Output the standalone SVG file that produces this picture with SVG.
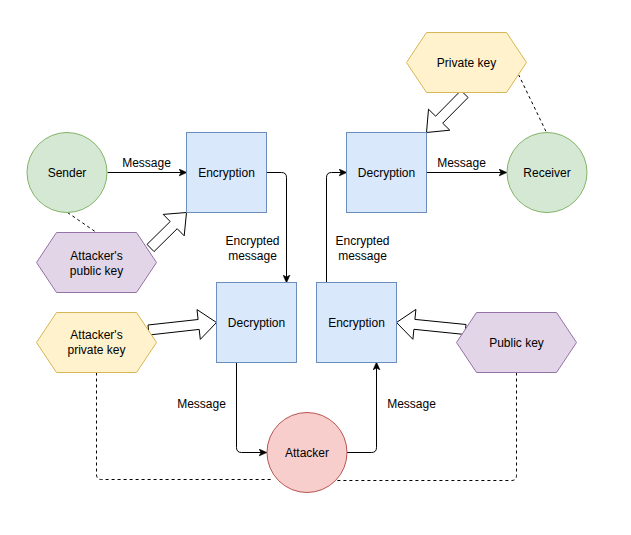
<svg xmlns="http://www.w3.org/2000/svg" width="631" height="535" viewBox="0 0 631 535">
<defs>
<style>
text{font-family:"Liberation Sans",Arial,Helvetica,sans-serif;font-size:12px;fill:#000;text-anchor:middle;dominant-baseline:central}
.box{fill:#dae8fc;stroke:#6c8ebf;stroke-width:1}
.green{fill:#d5e8d4;stroke:#82b366;stroke-width:1}
.red{fill:#f8cecc;stroke:#b85450;stroke-width:1}
.purple{fill:#e1d5e7;stroke:#9673a6;stroke-width:1}
.yellow{fill:#fff2cc;stroke:#d6b656;stroke-width:1}
.edge{fill:none;stroke:#000;stroke-width:1;marker-end:url(#arr)}
.dash{fill:none;stroke:#000;stroke-width:1;stroke-dasharray:3 3}
.flex{fill:#fff;stroke:#000;stroke-width:1;stroke-linejoin:miter}
</style>
<marker id="arr" viewBox="0 0 8 8" refX="7.5" refY="4" markerWidth="8" markerHeight="8" markerUnits="userSpaceOnUse" orient="auto">
<path d="M0,0.5 L8,4 L0,7.5 L2,4 Z" fill="#000" stroke="#000" stroke-width="0.5"/>
</marker>
</defs>
<rect x="0" y="0" width="631" height="535" fill="#fff"/>
<g transform="translate(0.5,0.5)">
<g id="connectors">
<path class="edge" d="M107,172 L186,172"/>
<path class="edge" d="M266,172 L281,172 Q286,172 286,177 L286,282"/>
<path class="edge" d="M326,282 L326,177 Q326,172 331,172 L346,172"/>
<path class="edge" d="M426,172 L506,172"/>
<path class="edge" d="M236,362 L236,447 Q236,452 241,452 L266,452"/>
<path class="edge" d="M346,452 L371,452 Q376,452 376,447 L376,362"/>
<path class="dash" d="M67,212 L96,232"/>
<path class="dash" d="M518,74 L546,132"/>
<path class="dash" d="M96,372 L96,474 Q96,479 101,479 L272,479"/>
<path class="dash" d="M516,372 L516,475 Q516,480 511,480 L333,480"/>
<polygon class="flex" points="146.5,243.9 169.7,221.0 162.7,213.9 186,212 183.7,235.3 176.7,228.2 153.5,251.1"/>
<polygon class="flex" points="460.4,90.0 435.1,115.7 428.0,108.7 426,132 449.3,129.7 442.2,122.7 467.6,97.0"/>
<polygon class="flex" points="147.5,324.5 197.6,319.0 196.5,309.1 216,322 199.8,338.9 198.7,328.9 148.5,334.5"/>
<polygon class="flex" points="465.5,324.0 414.4,318.9 415.4,308.9 396,322 412.4,338.8 413.4,328.8 464.5,334.0"/>
<text x="146" y="162" style="fill:#000">Message</text>
<text x="461" y="162">Message</text>
<text x="252" y="240">Encrypted</text>
<text x="252" y="255">message</text>
<text x="362" y="240">Encrypted</text>
<text x="362" y="255">message</text>
<text x="201" y="403">Message</text>
<text x="411" y="403">Message</text>
</g>
<g id="sender">
<circle class="green" cx="66.5" cy="172" r="40"/>
<text x="66.5" y="172">Sender</text>
</g>
<g id="receiver">
<circle class="green" cx="546.5" cy="172" r="40"/>
<text x="546.5" y="172">Receiver</text>
</g>
<g id="encryption1">
<rect class="box" x="186" y="132" width="80" height="80"/>
<text x="226" y="172">Encryption</text>
</g>
<g id="decryption2">
<rect class="box" x="346" y="132" width="80" height="80"/>
<text x="386" y="172">Decryption</text>
</g>
<g id="decryption1">
<rect class="box" x="216" y="282" width="80" height="80"/>
<text x="256" y="322">Decryption</text>
</g>
<g id="encryption2">
<rect class="box" x="316" y="282" width="80" height="80"/>
<text x="356" y="322">Encryption</text>
</g>
<g id="attacker">
<circle class="red" cx="306.5" cy="452" r="40"/>
<text x="306.5" y="452">Attacker</text>
</g>
<g id="attacker-public-key">
<polygon class="purple" points="56,232 136,232 156,262 136,292 56,292 36,262"/>
<text x="96" y="255">Attacker's</text>
<text x="96" y="270">public key</text>
</g>
<g id="private-key">
<polygon class="yellow" points="426,32 506,32 526,62 506,92 426,92 406,62"/>
<text x="466" y="62">Private key</text>
</g>
<g id="attacker-private-key">
<polygon class="yellow" points="56,312 136,312 156,342 136,372 56,372 36,342"/>
<text x="96" y="334.5">Attacker's</text>
<text x="96" y="349.5">private key</text>
</g>
<g id="public-key">
<polygon class="purple" points="476,312 556,312 576,342 556,372 476,372 456,342"/>
<text x="516" y="342">Public key</text>
</g>
</g>
</svg>
